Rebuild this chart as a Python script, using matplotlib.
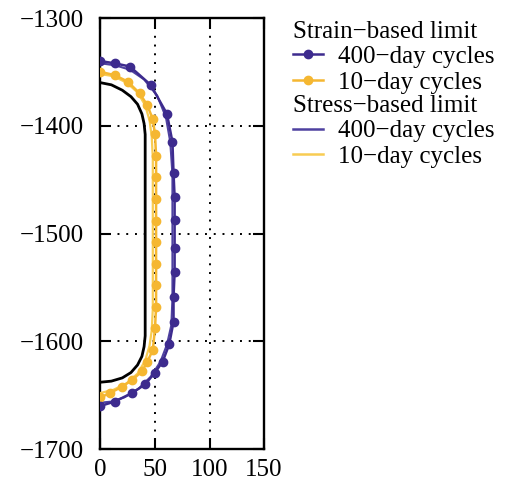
import matplotlib
matplotlib.use("Agg")
import matplotlib.pyplot as plt
from matplotlib.lines import Line2D

plt.rcParams['font.family'] = ['Liberation Serif', 'DejaVu Serif']

# strain-based limit, 400-day cycles
strain400_x = [0, 13, 27, 46, 61, 66, 67, 68, 68, 68, 68, 67, 67, 63, 57, 50, 41, 29, 13, 0]
strain400_y = [-1340, -1342, -1345, -1362, -1389, -1415, -1444, -1466, -1487, -1513,
               -1536, -1559, -1582, -1603, -1619, -1629, -1640, -1648, -1656, -1660]

# strain-based limit, 10-day cycles
strain10_x = [0, 13, 25, 36, 43, 48, 50, 51, 51, 51, 51, 51, 51, 51, 51,
              50, 48, 43, 38, 29, 20, 9, 0]
strain10_y = [-1350, -1353, -1359, -1370, -1381, -1394, -1408, -1428, -1448, -1468,
              -1488, -1508, -1528, -1548, -1568, -1588, -1608, -1619, -1628, -1636,
              -1642, -1648, -1652]

# stress-based limit
stress400_x = [0, 14, 27, 40, 52, 60, 64, 66, 66, 65, 61, 55, 46, 35, 22, 10, 0]
stress400_y = [-1342, -1344, -1348, -1357, -1372, -1392, -1415, -1445, -1560, -1585,
               -1603, -1619, -1633, -1644, -1652, -1656, -1657]
stress10_x = [0, 12, 24, 34, 41, 45, 47, 48, 48, 47, 45, 41, 34, 24, 12, 0]
stress10_y = [-1352, -1354, -1360, -1369, -1381, -1395, -1410, -1430, -1570, -1590,
              -1604, -1618, -1630, -1639, -1645, -1648]

# inner boundary
inner_x = [0, 10, 20, 28, 34, 38, 40, 41, 41, 40, 38, 34, 28, 20, 10, 0]
inner_y = [-1360, -1362, -1367, -1373, -1380, -1389, -1398, -1408, -1595, -1605,
           -1614, -1622, -1629, -1634, -1637, -1638]

x_ticks = [0, 50, 100, 150]
y_ticks = [-1700, -1600, -1500, -1400, -1300]

purple = '#3d2b8e'
yellow = '#f5b731'
purple_thin = '#4e41a0'
yellow_thin = '#f8cc52'

fig = plt.figure(figsize=(5.19, 4.95), dpi=100)
ax = fig.add_axes([0.1936, 0.0929, 0.3151, 0.8707])

ax.plot(inner_x, inner_y, color='black', lw=2.0, zorder=3)
ax.plot(stress10_x, stress10_y, color=yellow_thin, lw=1.6, zorder=3)
ax.plot(stress400_x, stress400_y, color=purple_thin, lw=1.5, zorder=3)
ax.plot(strain10_x, strain10_y, color=yellow, lw=1.8, marker='o', ms=6, zorder=4)
ax.plot(strain400_x, strain400_y, color=purple, lw=1.8, marker='o', ms=6, zorder=5)

ax.set_xlim(0, 150)
ax.set_ylim(-1700, -1300)
ax.set_xticks(x_ticks)
ax.set_yticks(y_ticks)
ax.grid(True, color='black', linestyle=(0, (1, 3.5)), lw=1.4)
ax.tick_params(direction='in', top=True, right=True, length=8, width=1.5,
               labelsize=18)
ax.tick_params(axis='y', pad=12)
ax.tick_params(axis='x', pad=7)
for s in ax.spines.values():
    s.set_linewidth(1.7)

# LEGENDS
h1 = [Line2D([], [], color=purple, lw=1.8, marker='o', ms=6),
      Line2D([], [], color=yellow, lw=1.8, marker='o', ms=6)]
h2 = [Line2D([], [], color=purple_thin, lw=1.8),
      Line2D([], [], color=yellow_thin, lw=1.8)]
labels = ['400\u2212day cycles', '10\u2212day cycles']

common = dict(loc='upper left', frameon=False, fontsize=18, title_fontsize=18,
              alignment='left', handlelength=1.2, handletextpad=0.6,
              labelspacing=0.12, borderpad=0, borderaxespad=0)
leg1 = fig.legend(h1, labels, title='Strain\u2212based limit',
                  bbox_to_anchor=(0.564, 0.958), **common)
leg2 = fig.legend(h2, labels, title='Stress\u2212based limit',
                  bbox_to_anchor=(0.564, 0.808), **common)
for leg in (leg1, leg2):
    leg._legend_box.sep = 2

fig.savefig('out.png', dpi=100)
